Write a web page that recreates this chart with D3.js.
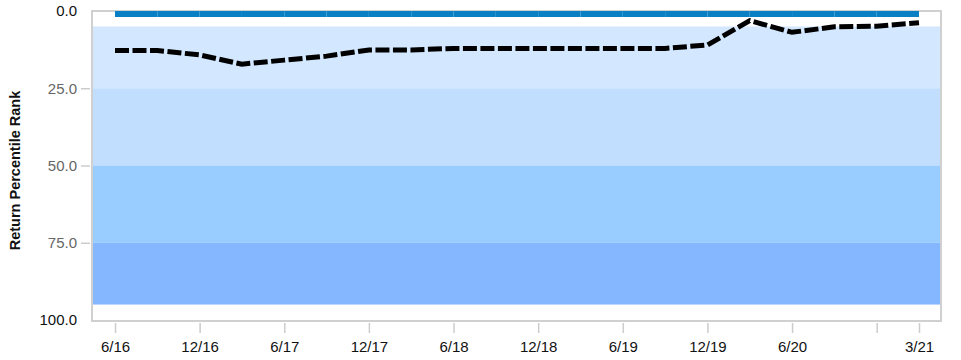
<!DOCTYPE html>
<html lang="en">
<head>
  <meta charset="UTF-8">
  <script src="https://cdn.jsdelivr.net/npm/d3@7"></script>
  <title>Return Percentile Rank</title>
  <style>
    body { margin: 0; background: #fff; }
    * { font-family: "Liberation Sans", Arial, sans-serif; }
  </style>
</head>
<body>
<div id="chart"></div>
<script>
  // quarters shown on the chart
  var quarters = ["6/16","9/16","12/16","3/17","6/17","9/17","12/17","3/18","6/18","9/18",
                  "12/18","3/19","6/19","9/19","12/19","3/20","6/20","9/20","12/20","3/21"];
  // benchmark rank (solid blue) and fund rank (dashed black)
  var benchRank = [1,1,1,1,1,1,1,1,1,1,1,1,1,1,1,1,1,1,1,1];
  var fundRank = [12.8,12.8,14.2,17.2,15.9,14.6,12.6,12.6,12.1,12.1,
                  12.1,12.1,12.1,12.1,11.0,3.1,6.9,5.1,4.9,3.8];
  // quartile bands
  var bandLo = [5, 25, 50, 75];
  var bandHi = [25, 50, 75, 95];
  var bandColors = ["#d3e8fe", "#c1deff", "#99ccff", "#84b7ff"];
  // axis ticks
  var xTicks = ["6/16","12/16","6/17","12/17","6/18","12/18","6/19","12/19","6/20","12/20","3/21"];
  var xHidden = ["12/20"];
  var yTicks = [0, 25, 50, 75, 100];

  var W = 961, H = 360;
  var plotL = 92, plotR = 941, plotT = 11, plotB = 320;

  var svg = d3.select("#chart").append("svg")
    .attr("width", W).attr("height", H);

  var x = d3.scalePoint().domain(quarters).range([115, 919]);
  var y = d3.scaleLinear().domain([0, 100]).range([plotT, plotB]);

  // bands
  svg.append("g").selectAll("rect")
    .data(bandLo)
    .enter().append("rect")
      .attr("x", plotL)
      .attr("y", function(d) { return y(d); })
      .attr("width", plotR - plotL)
      .attr("height", function(d, i) { return y(bandHi[i]) - y(d); })
      .attr("fill", function(d, i) { return bandColors[i]; });

  // frame
  svg.append("rect")
    .attr("x", plotL).attr("y", plotT)
    .attr("width", plotR - plotL).attr("height", plotB - plotT + 1)
    .attr("fill", "none")
    .attr("stroke", "#d0d0d0")
    .attr("stroke-width", 2);

  // y axis
  var yAxis = svg.append("g")
    .attr("transform", "translate(" + (plotL - 2) + ",0)")
    .call(d3.axisLeft(y).tickValues(yTicks).tickFormat(d3.format(".1f")).tickSize(9).tickPadding(4));
  yAxis.select(".domain").remove();
  yAxis.selectAll(".tick line")
    .attr("stroke", "#cccccc")
    .attr("stroke-width", 1.5)
    .attr("display", function(d) { return (d === 0 || d === 100) ? "none" : null; });
  yAxis.selectAll(".tick text")
    .attr("font-size", 15)
    .attr("font-family", "Liberation Sans, Arial, sans-serif")
    .attr("fill", function(d) { return (d === 0 || d === 100) ? "#111" : "#666"; });

  // x axis
  var xAxis = svg.append("g")
    .attr("transform", "translate(0," + (plotB + 3) + ")")
    .call(d3.axisBottom(x).tickValues(xTicks)
      .tickFormat(function(d) { return xHidden.indexOf(d) >= 0 ? "" : d; })
      .tickSize(10).tickPadding(8));
  xAxis.select(".domain").remove();
  xAxis.selectAll(".tick line")
    .attr("stroke", "#cccccc")
    .attr("stroke-width", 1.5);
  xAxis.selectAll(".tick text")
    .attr("font-size", 15)
    .attr("font-family", "Liberation Sans, Arial, sans-serif")
    .attr("fill", "#111");

  // y title
  svg.append("text")
    .attr("transform", "translate(20," + ((plotT + plotB) / 2 + 5) + ") rotate(-90)")
    .attr("text-anchor", "middle")
    .attr("font-size", 14.5)
    .attr("font-weight", "bold")
    .attr("fill", "#111")
    .text("Return Percentile Rank");

  // benchmark line, drawn one quarter at a time
  var seg = d3.line()
    .x(function(d) { return x(d.q); })
    .y(function(d) { return y(d.v); });
  var benchPairs = d3.pairs(quarters.map(function(q, i) { return {q: q, v: benchRank[i]}; }));
  svg.append("g").selectAll("path")
    .data(benchPairs)
    .enter().append("path")
      .attr("d", seg)
      .attr("fill", "none")
      .attr("stroke", "#0a80c4")
      .attr("stroke-width", 6);

  // fund line
  svg.append("path")
    .datum(quarters.map(function(q, i) { return {q: q, v: fundRank[i]}; }))
    .attr("d", seg)
    .attr("fill", "none")
    .attr("stroke", "#000")
    .attr("stroke-width", 5)
    .attr("stroke-dasharray", "14,3.5");
</script>
</body>
</html>
